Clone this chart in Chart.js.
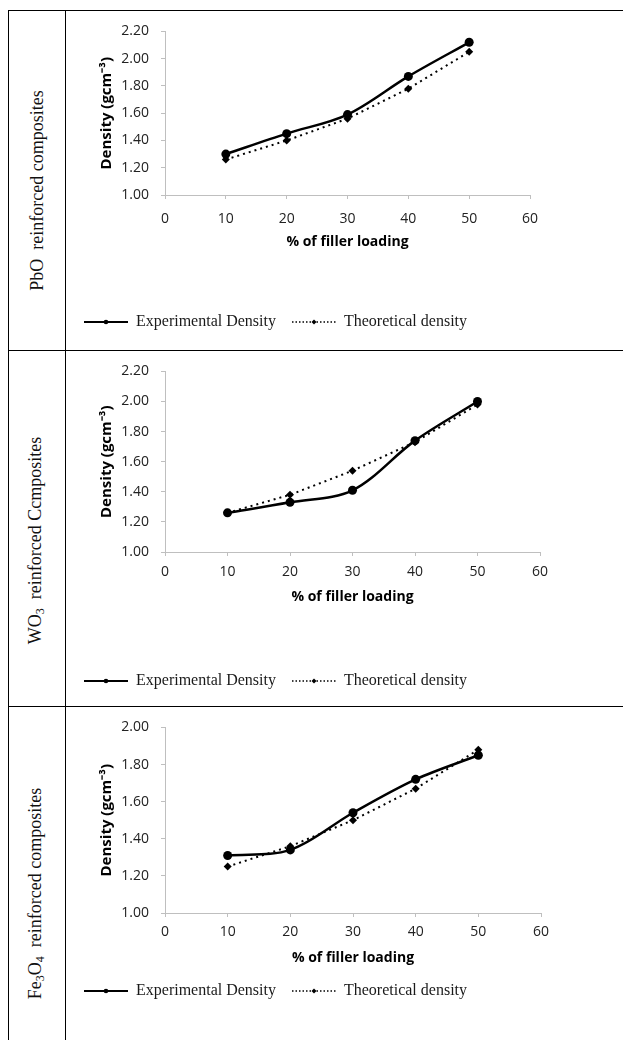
<!DOCTYPE html>
<html>
<head>
<meta charset="utf-8">
<script src="https://cdn.jsdelivr.net/npm/chart.js@4.4.1/dist/chart.umd.min.js"></script>
<style>
  body { margin: 0; background: #fff; width: 623px; height: 1040px; overflow: hidden; position: relative; }
  .hline { position: absolute; left: 8px; right: 0; height: 1px; background: #000; }
  .vline { position: absolute; top: 10px; bottom: 0; width: 1px; background: #000; }
  .side { position: absolute; left: 9px; width: 56px; height: 0; display: flex; align-items: center; justify-content: center; }
  .side span { flex-shrink: 0; transform: rotate(-90deg); white-space: nowrap; font: 18px "Liberation Serif", "Times New Roman", serif; color: #111; }
  .side sub { font-size: 12px; vertical-align: -3px; }
  .panel { position: absolute; left: 66px; width: 557px; }
</style>
</head>
<body>
<div class="hline" style="top:10px"></div>
<div class="hline" style="top:350px"></div>
<div class="hline" style="top:706px"></div>
<div class="vline" style="left:8px"></div>
<div class="vline" style="left:65px"></div>

<div class="side" style="top:190px"><span>PbO&nbsp; reinforced composites</span></div>
<div class="side" style="top:540px"><span>WO<sub>3</sub>&nbsp; reinforced Ccmposites</span></div>
<div class="side" style="top:893px"><span>Fe<sub>3</sub>O<sub>4</sub>&nbsp; reinforced composites</span></div>

<div class="panel" style="top:11px;height:338px"><canvas id="pbo"></canvas></div>
<div class="panel" style="top:351px;height:354px"><canvas id="wo3"></canvas></div>
<div class="panel" style="top:707px;height:333px"><canvas id="fe3o4"></canvas></div>

<script>
const fillerLoading = [10, 20, 30, 40, 50];
const seriesLabels = ['Experimental Density', 'Theoretical density'];

const pboExperimental = [1.30, 1.45, 1.59, 1.87, 2.12];
const pboTheoretical = [1.26, 1.40, 1.56, 1.78, 2.05];

const wo3Experimental = [1.26, 1.33, 1.41, 1.74, 2.00];
const wo3Theoretical = [1.26, 1.38, 1.54, 1.73, 1.98];

const fe3o4Experimental = [1.31, 1.34, 1.54, 1.72, 1.85];
const fe3o4Theoretical = [1.25, 1.36, 1.50, 1.67, 1.88];

const xAxisTitle = '% of filler loading';
const yAxisTitle = 'Density (gcm\u207B\u00B3)';

const AXIS_GRAY = '#bfbfbf';
const TEXT = '#222';
const TICK_FONT = { family: 'Open Sans', size: 14 };
const TITLE_FONT = { family: 'Open Sans', size: 14, weight: 'bold' };
const Y_TITLE_FONT = { family: 'Open Sans', size: 15, weight: 'bold' };

/**
 * Small canvas used as legend symbol: line with a marker in the middle
 * @param {boolean} dotted
 */
function legendSymbol(dotted) {
    const c = document.createElement('canvas');
    c.width = 44;
    c.height = 10;
    const ctx = c.getContext('2d');
    ctx.strokeStyle = '#000';
    ctx.fillStyle = '#000';
    ctx.lineWidth = dotted ? 1.3 : 2;
    if (dotted) ctx.setLineDash([1.5, 2]);
    ctx.beginPath();
    ctx.moveTo(0, 5);
    ctx.lineTo(44, 5);
    ctx.stroke();
    ctx.setLineDash([]);
    ctx.beginPath();
    if (dotted) {
        ctx.moveTo(22, 2.5); ctx.lineTo(24.5, 5); ctx.lineTo(22, 7.5); ctx.lineTo(19.5, 5);
        ctx.closePath();
    } else {
        ctx.arc(22, 5, 2.3, 0, Math.PI * 2);
    }
    ctx.fill();
    return c;
}

const symbols = [legendSymbol(false), legendSymbol(true)];

/**
 * Render one panel
 * @param {string} id
 * @param {number[]} experimental
 * @param {number[]} theoretical
 * @param {Object} opt layout settings for this panel
 */
function renderPanel(id, experimental, theoretical, opt) {
    const canvas = document.getElementById(id);
    new Chart(canvas.getContext('2d'), {
        type: 'line',
        data: {
            datasets: [
                {
                    label: seriesLabels[0],
                    data: fillerLoading.map((x, i) => ({ x, y: experimental[i] })),
                    borderColor: '#000',
                    backgroundColor: '#000',
                    borderWidth: 2.5,
                    tension: 0.33,
                    pointStyle: 'circle',
                    pointRadius: 4.5,
                    pointBorderWidth: 0,
                    order: 1
                },
                {
                    label: seriesLabels[1],
                    data: fillerLoading.map((x, i) => ({ x, y: theoretical[i] })),
                    borderColor: '#000',
                    backgroundColor: '#000',
                    borderWidth: 2,
                    borderDash: [2, 4],
                    tension: 0,
                    pointStyle: 'rectRot',
                    pointRadius: 4,
                    pointBorderWidth: 0,
                    order: 2
                }
            ]
        },
        options: {
            responsive: true,
            maintainAspectRatio: false,
            animation: false,
            layout: { padding: { left: 2, top: 18, right: opt.padRight, bottom: opt.padBottom } },
            plugins: {
                tooltip: { enabled: false },
                legend: {
                    position: 'bottom',
                    align: 'start',
                    labels: {
                        usePointStyle: true,
                        pointStyleWidth: 44,
                        padding: 16,
                        color: '#1a1a1a',
                        font: { family: 'Liberation Serif', size: 16 },
                        generateLabels(chart) {
                            const items = Chart.defaults.plugins.legend.labels.generateLabels(chart);
                            items.forEach((item, i) => { item.pointStyle = symbols[i]; });
                            return items;
                        }
                    }
                }
            },
            scales: {
                x: {
                    type: 'linear',
                    min: 0,
                    max: 60,
                    afterFit(scale) { scale.height = opt.xHeight; },
                    border: { color: AXIS_GRAY },
                    grid: { drawOnChartArea: false, drawTicks: true, tickLength: 4, color: AXIS_GRAY },
                    ticks: { stepSize: 10, padding: opt.xTickPad, color: TEXT, font: TICK_FONT, maxRotation: 0 },
                    title: { display: true, text: xAxisTitle, color: '#000', font: TITLE_FONT, padding: { top: 0, bottom: opt.xTitlePad } }
                },
                y: {
                    min: 1,
                    max: opt.yMax,
                    afterFit(scale) { scale.width = 97; },
                    border: { color: AXIS_GRAY },
                    grid: { drawOnChartArea: false, drawTicks: true, tickLength: 4, color: AXIS_GRAY },
                    ticks: { stepSize: 0.2, padding: 12, color: TEXT, font: TICK_FONT, callback: v => v.toFixed(2) },
                    title: { display: true, text: yAxisTitle, color: '#000', font: Y_TITLE_FONT, padding: { top: 30, bottom: 0 } }
                }
            }
        }
    });
}

renderPanel('pbo', pboExperimental, pboTheoretical,
    { yMax: 2.2, padRight: 93, padBottom: 9, xHeight: 103, xTickPad: 12, xTitlePad: 47.6 });
renderPanel('wo3', wo3Experimental, wo3Theoretical,
    { yMax: 2.2, padRight: 83, padBottom: 6, xHeight: 105, xTickPad: 8, xTitlePad: 51.6 });
renderPanel('fe3o4', fe3o4Experimental, fe3o4Theoretical,
    { yMax: 2.0, padRight: 82, padBottom: 31, xHeight: 54, xTickPad: 7, xTitlePad: 0.6 });
</script>
</body>
</html>
